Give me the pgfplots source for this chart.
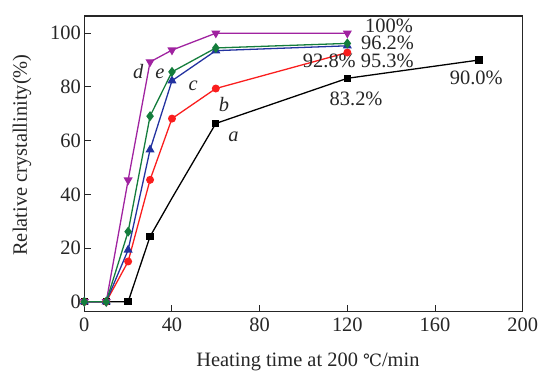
\documentclass[border=0pt]{standalone}
\usepackage{fontspec}
\setmainfont{Liberation Serif}
\newfontfamily\symfont{DejaVu Serif}
\usepackage{pgfplots}
\pgfplotsset{compat=1.18}
\usetikzlibrary{calc}
\definecolor{cA}{RGB}{0,0,0}
\definecolor{cB}{RGB}{250,30,30}
\definecolor{cC}{RGB}{35,50,160}
\definecolor{cD}{RGB}{160,35,160}
\definecolor{cE}{RGB}{20,125,60}
\begin{document}
\begin{tikzpicture}
\begin{axis}[name=ax,
  scale only axis, width=438.4bp, height=295.7bp,
  xmin=0, xmax=200, ymin=-3.7, ymax=106.4,
  xtick={0,40,80,120,160,200}, ytick={0,20,40,60,80,100},
  xtick pos=bottom, ytick pos=left, tick align=inside,
  major tick length=7bp,
  axis line style={line width=1.1pt, black!85},
  every tick/.style={line width=1pt, black!85},
  /pgf/number format/assume math mode=true,
  tick label style={font=\fontsize{20.5}{24}\selectfont, text=black!85},
  xticklabel style={yshift=-3bp},
  label style={font=\fontsize{20.5}{24}\selectfont, text=black!85},
  xlabel={Heating time at 200 {\symfont\fontsize{17}{20}\selectfont ℃}/min},
  ylabel={Relative crystallinity(\%)},
  xlabel style={at={(axis description cs:0.51,-0.17)}, anchor=center},
  ylabel style={at={(axis description cs:-0.142,0.53)}, anchor=center},
  every axis plot/.append style={line width=1.3pt},
  clip=false,
]
% a
\addplot[cA, mark=square*, mark size=3bp, mark indices={1,2,3,4,6,7,8}] coordinates {(0,0) (10,0) (20,0) (30,24.3) (40,38.6) (60,66.4) (120,83.2) (180,90.0)};
% b
\addplot[cB, mark=*, mark size=3.3bp] coordinates {(0,0) (10,0) (20,15.0) (30,45.4) (40,68.2) (60,79.4) (120,92.8)};
% d
\addplot[cD, mark=triangle*, mark options={rotate=180}, mark size=4bp] coordinates {(0,0) (10,0) (20,45.3) (30,89.3) (40,93.7) (60,100) (120,100)};
% c
\addplot[cC, mark=triangle*, mark size=4bp] coordinates {(0,0) (10,0) (20,19.3) (30,56.6) (40,82.3) (60,93.5) (120,95.3)};
% e
\addplot[cE, mark=diamond*, mark size=4bp] coordinates {(0,0) (10,0) (20,26.1) (30,69.1) (40,85.6) (60,94.5) (120,96.2)};

\begin{scope}[every node/.style={font=\fontsize{20.5}{24}\selectfont, text=black!85, inner sep=0pt}]
\node at (axis cs:68,61.4) {\itshape a};
\node at (axis cs:63.7,73.6) {\itshape b};
\node at (axis cs:49.7,80.6) {\itshape c};
\node at (axis cs:24.6,85.9) {\itshape d};
\node at (axis cs:34.5,84.7) {\itshape e};
\node at (axis cs:139,102.7) {100\%};
\node at (axis cs:138.3,96.3) {96.2\%};
\node at (axis cs:111.8,89.7) {92.8\%};
\node at (axis cs:138.2,89.7) {95.3\%};
\node at (axis cs:124,75.4) {83.2\%};
\node at (axis cs:178.8,83.3) {90.0\%};
\end{scope}
\end{axis}
\pgfresetboundingbox
\path ($(ax.south west)+(-84.3bp,-74.3bp)$) rectangle ($(ax.north east)+(29.3bp,16bp)$);
\end{tikzpicture}
\end{document}
